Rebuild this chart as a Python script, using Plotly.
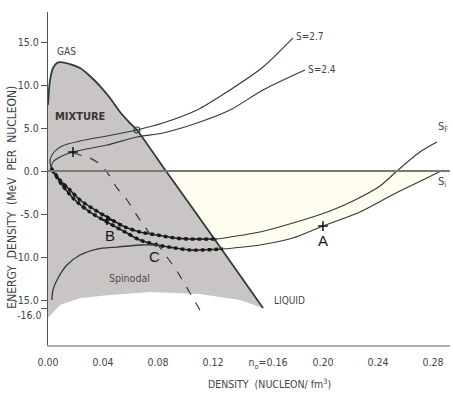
import plotly.graph_objects as go

# ---------------- data (density in nucleon/fm^3, energy in MeV per nucleon) ----------------
coex_d = [0.0, 0.0007, 0.0015, 0.0036, 0.0065, 0.0087, 0.0160, 0.0233, 0.0305, 0.0378,
          0.0451, 0.0524, 0.0596, 0.0647, 0.0858, 0.1200, 0.1564]
coex_E = [7.67, 9.42, 10.58, 11.98, 12.56, 12.67, 12.44, 11.98, 11.05, 9.88,
          8.49, 6.86, 5.58, 4.77, 0.0, -7.67, -15.93]

shade_bottom_d = [0.1396, 0.1105, 0.0742, 0.0451, 0.0233, 0.0087, 0.0]
shade_bottom_E = [-15.0, -14.3, -14.07, -14.42, -14.77, -15.58, -17.09]

s27_d = [0.1782, 0.1564, 0.1324, 0.1084, 0.0836, 0.0647, 0.0429, 0.0233, 0.0102,
         0.0044, 0.0015, 0.0022, 0.0044]
s27_E = [15.47, 12.09, 9.42, 7.09, 5.58, 4.77, 4.07, 3.49, 2.91, 2.21, 1.28, 0.47, -0.12]

s24_d = [0.1869, 0.1564, 0.1324, 0.1084, 0.0836, 0.0647, 0.0429, 0.0182, 0.0087,
         0.0036, 0.0022]
s24_E = [11.74, 9.42, 7.09, 5.58, 4.42, 3.95, 3.02, 2.21, 1.63, 1.05, 0.35]

# S_F : beaded part inside the mixture, then thin part
sf_in_d = [0.0022, 0.0087, 0.0160, 0.0233, 0.0342, 0.0429, 0.0560, 0.0669, 0.0793,
           0.0924, 0.1033, 0.1229]
sf_in_E = [0.35, -1.05, -2.21, -3.37, -4.53, -5.35, -6.51, -7.09, -7.44, -7.79, -7.91, -7.91]
sf_out_d = [0.1229, 0.1542, 0.1782, 0.2051, 0.2233, 0.2415, 0.2538, 0.2705, 0.2829]
sf_out_E = [-7.91, -7.09, -6.05, -4.65, -3.37, -1.74, 0.0, 2.21, 3.37]

# S_i
si_in_d = [0.0029, 0.0058, 0.0102, 0.0196, 0.0305, 0.0429, 0.0560, 0.0669, 0.0793,
           0.0924, 0.1033, 0.1273]
si_in_E = [0.12, -0.58, -1.63, -3.37, -4.77, -5.93, -7.09, -8.02, -8.60, -8.95, -9.19, -9.07]
si_out_d = [0.1273, 0.1542, 0.1782, 0.2000, 0.2269, 0.2545, 0.2756, 0.2873]
si_out_E = [-9.07, -8.60, -7.79, -6.40, -4.77, -2.44, -0.81, 0.12]

spin_d = [0.0029, 0.0036, 0.0073, 0.0138, 0.0233, 0.0356, 0.0502, 0.0669, 0.0793]
spin_E = [-15.0, -13.84, -12.44, -10.93, -9.77, -9.07, -8.84, -8.60, -8.60]

dash_d = [0.0182, 0.0305, 0.0378, 0.0429, 0.0502, 0.0575, 0.0669, 0.0764, 0.0865,
          0.0938, 0.1033, 0.1105]
dash_E = [2.09, 1.51, 0.81, -0.12, -1.98, -3.37, -5.70, -7.79, -10.0, -11.63, -14.19, -16.16]

circle_pt = (0.0647, 4.77)
plus_pts_d = [0.0182, 0.0429, 0.2000]
plus_pts_E = [2.21, -5.70, -6.40]

x_tickvals = [0.00, 0.04, 0.08, 0.12, 0.16, 0.20, 0.24, 0.28]
x_ticktext = ["0.00", "0.04", "0.08", "0.12", "n<sub>o</sub>=0.16", "0.20", "0.24", "0.28"]
y_tickvals = [15, 10, 5, 0, -5, -10, -15, -16]
y_ticktext = ["15.0", "10.0", "5.0", "0.0", "-5.0", "-10.0", "-15.0", ""]

# ---------------- styling ----------------
FONT = "Liberation Sans Narrow, DejaVu Sans Condensed, Liberation Sans, Arial, sans-serif"
TXT = "#3c4846"
LINE = "#2e3b39"

fig = go.Figure()

# faint cream region between zero line and S_i (outside mixture)
fig.add_trace(go.Scatter(
    x=[coex_d[-3]] + [si_out_d[-1]] + si_out_d[::-1] + [coex_d[-3]],
    y=[0.0, 0.0] + si_out_E[::-1] + [0.0],
    mode="lines", line=dict(width=0), fill="toself", fillcolor="#fffcf0",
    hoverinfo="skip", showlegend=False))

# shaded mixture region
fig.add_trace(go.Scatter(
    x=coex_d + shade_bottom_d + [coex_d[0]],
    y=coex_E + shade_bottom_E + [coex_E[0]],
    mode="lines", line=dict(width=0), fill="toself", fillcolor="#c9c5c4",
    hoverinfo="skip", showlegend=False))

# coexistence boundary
fig.add_trace(go.Scatter(x=coex_d, y=coex_E, mode="lines",
                         line=dict(color=LINE, width=1.8, shape="spline", smoothing=0.6),
                         showlegend=False))

# isentropes
for xd, ye in [(s27_d, s27_E), (s24_d, s24_E), (sf_out_d, sf_out_E), (si_out_d, si_out_E)]:
    fig.add_trace(go.Scatter(x=xd, y=ye, mode="lines",
                             line=dict(color=LINE, width=1.1, shape="spline", smoothing=0.8),
                             showlegend=False))
for xd, ye in [(sf_in_d, sf_in_E), (si_in_d, si_in_E)]:
    fig.add_trace(go.Scatter(x=xd, y=ye, mode="lines",
                             line=dict(color="#1c2422", width=1.6, shape="spline", smoothing=0.8),
                             showlegend=False))
    fig.add_trace(go.Scatter(x=xd, y=ye, mode="lines",
                             line=dict(color="#141a19", width=3.4, dash="dot", shape="spline", smoothing=0.8),
                             showlegend=False))

# spinodal
fig.add_trace(go.Scatter(x=spin_d, y=spin_E, mode="lines",
                         line=dict(color=LINE, width=1.3, shape="spline", smoothing=0.8),
                         showlegend=False))
# dashed line
fig.add_trace(go.Scatter(x=dash_d, y=dash_E, mode="lines",
                         line=dict(color=LINE, width=1.2, dash="dash", shape="spline", smoothing=0.6),
                         showlegend=False))

# markers
fig.add_trace(go.Scatter(x=[circle_pt[0]], y=[circle_pt[1]], mode="markers",
                         marker=dict(symbol="circle-open", size=6, color=LINE, line=dict(width=1.2)),
                         showlegend=False))
fig.add_trace(go.Scatter(x=plus_pts_d, y=plus_pts_E, mode="markers",
                         marker=dict(symbol="cross-thin", size=7, color="#111",
                                     line=dict(width=1.5, color="#111")),
                         showlegend=False))

# zero line
fig.add_shape(type="line", xref="x", yref="y", x0=0, x1=0.2924, y0=0, y1=0,
              line=dict(color="#7d7872", width=2))

# text labels
def lab(x, y, t, size=10, color=TXT, xanchor="center", bold=False, font=FONT):
    fig.add_annotation(x=x, y=y, xref="x", yref="y", text=("<b>%s</b>" % t) if bold else t,
                       showarrow=False, xanchor=xanchor, yanchor="middle",
                       font=dict(family=font, size=size, color=color))

lab(0.0138, 13.9, "GAS", 10)
lab(0.0236, 6.3, "MIXTURE", 11, color="#3a3636", bold=True)
lab(0.1790, 15.6, "S=2.7", 10, xanchor="left")
lab(0.1878, 11.8, "S=2.4", 10, xanchor="left")
lab(0.2873, 5.1, "S<sub>F</sub>", 11)
lab(0.2865, -1.3, "S<sub>i</sub>", 11)
lab(0.0596, -12.4, "Spinodal", 10.5, color="#4a4d4c")
lab(0.1760, -15.0, "LIQUID", 10)
lab(0.2000, -8.1, "A", 15, color="#1a1a1a", font="Liberation Sans, Arial, sans-serif")
lab(0.0451, -7.45, "B", 15, color="#1a1a1a", font="Liberation Sans, Arial, sans-serif")
lab(0.0778, -9.9, "C", 15, color="#1a1a1a", font="Liberation Sans, Arial, sans-serif")

# -16.0 tick label (sits a little below its tick, as in the original)
fig.add_annotation(x=-0.0125, y=-16, xref="paper", yref="y", text="-16.0", showarrow=False,
                   xanchor="right", yanchor="middle", yshift=-6,
                   font=dict(family=FONT, size=10.5, color=TXT))

# axis titles
fig.add_annotation(x=-0.09, y=0.445, xref="paper", yref="paper",
                   xanchor="center", yanchor="middle",
                   text="ENERGY  DENSITY  (MeV  PER  NUCLEON)", textangle=-90, showarrow=False,
                   font=dict(family=FONT, size=12, color=TXT))
fig.add_annotation(x=0.55, y=-0.115, xref="paper", yref="paper",
                   xanchor="center", yanchor="middle",
                   text="DENSITY  (NUCLEON/ fm<sup>3</sup>)", showarrow=False,
                   font=dict(family=FONT, size=10.5, color=TXT))

fig.update_layout(
    width=453, height=394,
    margin=dict(l=48, r=3, t=12, b=49),
    paper_bgcolor="white", plot_bgcolor="white",
    showlegend=False,
    xaxis=dict(range=[0, 0.2924], tickvals=x_tickvals, ticktext=x_ticktext,
               showgrid=False, zeroline=False, showline=True, linecolor="#bba9a9", linewidth=1.5,
               ticks="outside", ticklen=7, tickcolor="rgba(0,0,0,0)",
               tickfont=dict(family=FONT, size=10.5, color=TXT)),
    yaxis=dict(range=[-20.23, 18.49], tickvals=y_tickvals, ticktext=y_ticktext,
               showgrid=False, zeroline=False, showline=True, linecolor="#4d5856", linewidth=1.2,
               ticks="outside", ticklen=6, tickcolor="#4d5856",
               tickfont=dict(family=FONT, size=10.5, color=TXT)),
)

fig.write_html("out.html")
